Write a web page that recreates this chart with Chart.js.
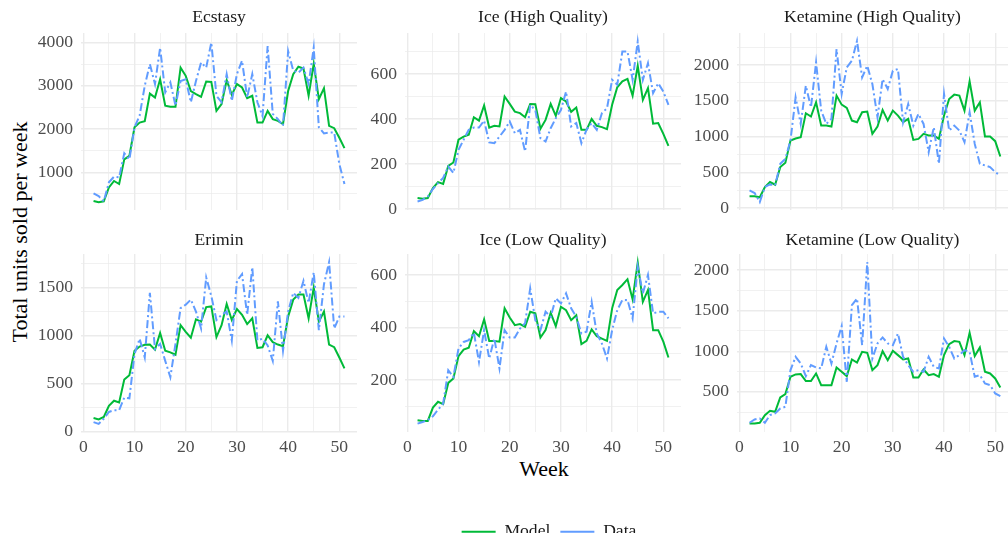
<!DOCTYPE html>
<html>
<head>
<meta charset="utf-8">
<script src="https://cdn.jsdelivr.net/npm/chart.js@4.4.1/dist/chart.umd.min.js"></script>
<style>
body { margin: 0; background: #fff; }
#wrap { position: relative; width: 1008px; height: 543px; overflow: hidden; font-family: "Liberation Serif", "DejaVu Serif", serif; }
canvas { position: absolute; }
.ttl { position: absolute; font-size: 22px; color: #000; white-space: nowrap; transform: translate(-50%, -50%); }
#xt { left: 544px; top: 469px; }
#yt { left: 20px; top: 232px; transform: translate(-50%, -50%) rotate(-90deg); }
</style>
</head>
<body>
<div id="wrap">
  <div class="ttl" id="xt">Week</div>
  <div class="ttl" id="yt">Total units sold per week</div>
</div>
<script>
const weeks = [2, 3, 4, 5, 6, 7, 8, 9, 10, 11, 12, 13, 14, 15, 16, 17, 18, 19, 20, 21, 22, 23, 24, 25, 26,
  27, 28, 29, 30, 31, 32, 33, 34, 35, 36, 37, 38, 39, 40, 41, 42, 43, 44, 45, 46, 47, 48, 49, 50, 51];

const ecstasyModel = [340, 310, 330, 650, 800, 730, 1300, 1380, 2040, 2150, 2180, 2820, 2730, 3150, 2540, 2515, 2515,
  3420, 3230, 2880, 2810, 2745, 3100, 3090, 2420, 2580, 3130, 2790, 3040, 2960, 2715, 2770, 2150, 2150, 2420, 2230,
  2190, 2115, 2880, 3270, 3440, 3400, 2770, 3510, 2690, 2945, 2075, 2020, 1800, 1560];
const ecstasyData = [515, 450, 330, 770, 900, 885, 1440, 1300, 2040, 2310, 3000, 3500, 3040, 3880, 2850, 3080, 2540,
  3110, 3150, 2620, 3110, 3540, 3420, 4000, 2770, 2620, 3270, 2650, 3270, 3580, 2730, 3270, 2620, 2300, 3920, 2350,
  2230, 2080, 3800, 3350, 3300, 3420, 3040, 3880, 2040, 1900, 1920, 1920, 1190, 730];

const iceHighModel = [49, 46, 49, 93, 120, 112, 192, 207, 308, 322, 330, 408, 393, 460, 362, 370, 367, 500, 467, 433,
  426, 408, 467, 466, 357, 396, 467, 414, 493, 478, 432, 451, 352, 352, 400, 370, 364, 355, 463, 541, 567, 578, 504,
  636, 485, 537, 379, 382, 334, 281];
const iceHighData = [34, 41, 56, 89, 115, 138, 189, 160, 263, 308, 352, 362, 362, 393, 296, 293, 322, 352, 389, 337,
  352, 256, 463, 440, 315, 300, 359, 404, 440, 522, 367, 382, 293, 352, 382, 352, 426, 448, 574, 552, 700, 700, 574,
  744, 574, 648, 515, 559, 522, 463];

const ketHighModel = [163, 163, 150, 293, 363, 326, 572, 632, 944, 972, 990, 1325, 1279, 1479, 1153, 1153, 1139, 1572,
  1446, 1400, 1223, 1200, 1339, 1349, 1037, 1139, 1372, 1223, 1362, 1293, 1200, 1246, 953, 967, 1037, 1014, 1014, 967,
  1293, 1525, 1586, 1572, 1362, 1772, 1362, 1479, 1000, 1000, 935, 721];
const ketHighData = [246, 209, 84, 293, 330, 316, 618, 688, 944, 1548, 1176, 1711, 1409, 2037, 1362, 1176, 1246, 2223,
  1595, 1967, 2060, 2339, 1827, 1990, 1734, 1269, 1804, 1665, 1920, 1944, 1200, 1455, 1153, 1316, 1176, 781, 1130, 618,
  1595, 1083, 1153, 1083, 921, 1339, 897, 618, 595, 572, 502, 456];

const eriminModel = [138, 124, 149, 266, 319, 301, 539, 585, 840, 883, 901, 904, 851, 1025, 840, 823, 798, 1106, 1035,
  975, 1167, 1142, 1294, 1301, 982, 1106, 1326, 1160, 1273, 1213, 1117, 1177, 869, 876, 1000, 929, 904, 886, 1195, 1372,
  1425, 1425, 1177, 1496, 1142, 1248, 904, 876, 769, 656];
const eriminData = [96, 78, 131, 202, 220, 220, 351, 344, 805, 965, 770, 1443, 858, 911, 734, 564, 911, 1284, 1319,
  1372, 1248, 1071, 1603, 1408, 1160, 1213, 1248, 947, 1567, 1638, 1213, 1709, 947, 965, 894, 734, 1355, 840, 1248,
  1443, 1390, 1567, 1337, 1656, 1053, 1532, 1762, 1071, 1195, 1195];

const iceLowModel = [47, 44, 44, 95, 117, 108, 189, 206, 291, 316, 323, 386, 367, 431, 349, 349, 346, 473, 438, 409,
  413, 403, 460, 454, 362, 390, 456, 405, 479, 466, 428, 447, 337, 349, 393, 367, 358, 349, 473, 543, 562, 584, 507,
  647, 498, 543, 390, 390, 346, 286];
const iceLowData = [34, 40, 47, 62, 87, 110, 237, 212, 320, 345, 352, 380, 269, 390, 282, 358, 244, 390, 362, 362, 396,
  416, 549, 428, 390, 460, 441, 511, 492, 530, 473, 441, 377, 384, 498, 377, 339, 282, 390, 466, 505, 505, 435, 632,
  530, 600, 454, 460, 460, 435];

const ketLowModel = [109, 109, 118, 212, 266, 253, 430, 471, 685, 714, 718, 632, 632, 726, 582, 582, 582, 800, 747, 693,
  899, 861, 993, 981, 767, 829, 1001, 890, 1005, 952, 899, 911, 677, 677, 775, 705, 718, 685, 952, 1088, 1125, 1116,
  952, 1227, 940, 1046, 747, 726, 664, 553];
const ketLowData = [118, 159, 171, 118, 212, 233, 294, 315, 767, 931, 849, 693, 829, 800, 788, 1055, 849, 1096, 1310,
  623, 1568, 1651, 1075, 2100, 911, 1096, 1170, 1096, 1075, 1219, 931, 829, 747, 767, 747, 931, 808, 788, 1158, 1055,
  911, 952, 1014, 993, 685, 705, 603, 582, 479, 446];

const seriesNames = ['Model', 'Data'];

const font = '"Liberation Serif", "DejaVu Serif", serif';
const green = '#00BA38';
const blue = '#619CFF';
const gridCol = '#EBEBEB';
const wrap = document.getElementById('wrap');

const yw = 64;   // room for y tick labels
const th = 33;   // strip title block
const xh = 32;   // room for x tick labels (bottom row)
const xhTop = 14; // spare room under top row so the "0" label is not cut

function toPoints(vals) {
  return weeks.map((w, i) => ({ x: w, y: vals[i] }));
}

function makePanel(title, model, data, area, yMin, yMax, major, showX) {
  const c = document.createElement('canvas');
  const below = showX ? xh : xhTop;
  const w = yw + area.r - area.l;
  const h = th + area.b - area.t + below;
  c.width = w;
  c.height = h;
  c.style.left = (area.l - yw) + 'px';
  c.style.top = (area.t - th) + 'px';
  c.style.width = w + 'px';
  c.style.height = h + 'px';
  wrap.appendChild(c);

  const half = major / 2;

  new Chart(c, {
    type: 'line',
    data: {
      datasets: [
        { label: seriesNames[1], data: toPoints(data), borderColor: blue, borderWidth: 2,
          borderDash: [8, 3, 2, 3], pointRadius: 0, tension: 0, fill: false },
        { label: seriesNames[0], data: toPoints(model), borderColor: green, borderWidth: 2,
          pointRadius: 0, tension: 0, fill: false }
      ]
    },
    options: {
      responsive: false,
      animation: false,
      layout: { padding: 0 },
      plugins: {
        legend: { display: false },
        tooltip: { enabled: false },
        title: {
          display: true, text: title, fullSize: false, color: '#1A1A1A',
          font: { family: font, size: 17.6, weight: 'normal' },
          padding: { top: area.tp, bottom: th - 21.12 - area.tp }
        }
      },
      scales: {
        x: {
          type: 'linear', min: -0.45, max: area.xMax,
          border: { display: false },
          grid: {
            drawTicks: false,
            color: gridCol,
            lineWidth: ctx => (ctx.tick && ctx.tick.value % 10 === 0) ? 1.4 : 0.7
          },
          ticks: {
            display: showX, stepSize: 5, includeBounds: false, autoSkip: false, maxRotation: 0,
            padding: 5, color: '#4D4D4D', font: { family: font, size: 17.6 },
            callback: v => v % 10 === 0 ? v : ''
          },
          afterFit: s => { s.height = below; s.paddingLeft = 0; s.paddingRight = 0; }
        },
        y: {
          min: yMin, max: yMax,
          border: { display: false },
          grid: {
            drawTicks: false,
            color: gridCol,
            lineWidth: ctx => (ctx.tick && ctx.tick.value % major === 0) ? 1.4 : 0.7
          },
          ticks: {
            autoSkip: false,
            padding: 8, color: '#4D4D4D', font: { family: font, size: 17.6 },
            callback: v => v % major === 0 ? v : ''
          },
          afterBuildTicks: s => {
            const t = [];
            for (let v = Math.ceil(yMin / half) * half; v <= yMax; v += half) t.push({ value: v });
            s.ticks = t;
          },
          afterFit: s => { s.width = yw; s.paddingTop = 0; s.paddingBottom = 0; }
        }
      }
    }
  });
}

const col1 = { l: 81, r: 357, xMax: 53.45 };
const col2 = { l: 405, r: 681, xMax: 53.45 };
const col3 = { l: 737, r: 1008, xMax: 52.5 };
const row1 = { t: 33, b: 210, tp: 6.4 };
const row2 = { t: 254, b: 432, tp: 8.4 };
const at = (c, r) => Object.assign({}, c, r);

makePanel('Ecstasy', ecstasyModel, ecstasyData, at(col1, row1), 130, 4220, 1000, false);
makePanel('Ice (High Quality)', iceHighModel, iceHighData, at(col2, row1), -4, 782, 200, false);
makePanel('Ketamine (High Quality)', ketHighModel, ketHighData, at(col3, row1), -28, 2448, 500, false);
makePanel('Erimin', eriminModel, eriminData, at(col1, row2), -7, 1847, 500, true);
makePanel('Ice (Low Quality)', iceLowModel, iceLowData, at(col2, row2), 2, 680, 200, true);
makePanel('Ketamine (Low Quality)', ketLowModel, ketLowData, at(col3, row2), 4, 2199, 500, true);

// legend
const lc = document.createElement('canvas');
lc.width = 260; lc.height = 40;
lc.style.left = '419px'; lc.style.top = '513px';
lc.style.width = '260px'; lc.style.height = '40px';
wrap.appendChild(lc);
new Chart(lc, {
  type: 'line',
  data: {
    datasets: [
      { label: seriesNames[0], data: [], borderColor: green, borderWidth: 2 },
      { label: seriesNames[1], data: [], borderColor: blue, borderWidth: 2, borderDash: [8, 3, 2, 3] }
    ]
  },
  options: {
    responsive: false,
    animation: false,
    scales: { x: { display: false }, y: { display: false } },
    plugins: {
      tooltip: { enabled: false },
      legend: {
        display: true, position: 'top',
        labels: {
          usePointStyle: true, pointStyle: 'line', pointStyleWidth: 34, padding: 10,
          color: '#1A1A1A', font: { family: font, size: 17.6 }
        }
      }
    }
  }
});
</script>
</body>
</html>
